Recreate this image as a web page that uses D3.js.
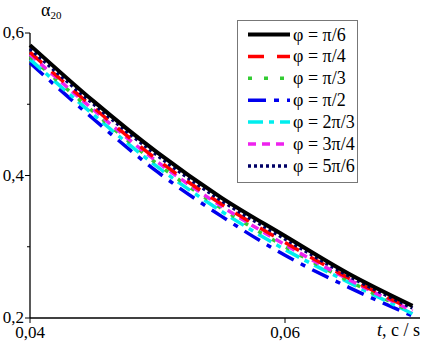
<!DOCTYPE html>
<html><head><meta charset="utf-8">
<script src="https://cdn.jsdelivr.net/npm/d3@7"></script>
<style>body{margin:0;background:#fff}svg{display:block}</style>
</head><body>
<script>
const tValues = [0.040, 0.045, 0.050, 0.055, 0.060, 0.065, 0.070];
const seriesNames = ["φ = π/6","φ = π/4","φ = π/3","φ = π/2","φ = 2π/3","φ = 3π/4","φ = 5π/6"];
const phi_pi6   = [0.583, 0.504, 0.432, 0.369, 0.315, 0.262, 0.217];
const phi_pi4   = [0.573, 0.495, 0.422, 0.360, 0.306, 0.256, 0.212];
const phi_pi3   = [0.567, 0.489, 0.416, 0.354, 0.300, 0.252, 0.208];
const phi_pi2   = [0.558, 0.479, 0.405, 0.343, 0.288, 0.243, 0.203];
const phi_2pi3  = [0.563, 0.485, 0.412, 0.350, 0.296, 0.250, 0.206];
const phi_3pi4  = [0.570, 0.492, 0.419, 0.357, 0.303, 0.254, 0.210];
const phi_5pi6  = [0.578, 0.500, 0.428, 0.365, 0.311, 0.259, 0.214];
const xTicks = [0.04, 0.06];
const xTickLabels = ["0,04", "0,06"];
const yTicks = [0.2, 0.4, 0.6];
const yTickLabels = ["0,2", "0,4", "0,6"];
const yMinor = [0.3, 0.5];

const seriesData = [phi_pi6, phi_pi4, phi_pi3, phi_pi2, phi_2pi3, phi_3pi4, phi_5pi6];
const styles = [
  {c:"#000000", w:4,   d:null},
  {c:"#ff0000", w:3.5, d:"16,13"},
  {c:"#33cc33", w:3.5, d:"4,12"},
  {c:"#0000ee", w:3.5, d:"18,8,5,8"},
  {c:"#00eeee", w:3.5, d:"15,6,5,6"},
  {c:"#ee22ee", w:3.5, d:"8,6"},
  {c:"#000066", w:3.5, d:"3,3"}
];
const drawOrder = [3,4,2,5,1,6,0];
const FONT = "Liberation Serif";

const W=422,H=343;
const svg=d3.select("body").append("svg").attr("width",W).attr("height",H)
  .style("font-family",FONT);
const x=d3.scaleLinear().domain([0.04,0.06]).range([30,285]);
const y=d3.scaleLinear().domain([0.2,0.6]).range([318,33]);

// axes
svg.append("line").attr("x1",30).attr("x2",30).attr("y1",33).attr("y2",318).attr("stroke","#000").attr("stroke-width",1.3);
svg.append("line").attr("x1",30).attr("x2",420).attr("y1",318).attr("y2",318).attr("stroke","#000").attr("stroke-width",1.3);
yTicks.forEach((v,i)=>{
  svg.append("line").attr("x1",25).attr("x2",30).attr("y1",y(v)).attr("y2",y(v)).attr("stroke","#000");
  svg.append("text").attr("x",24).attr("y",y(v)+5).attr("text-anchor","end").attr("font-size",17).style("font-family",FONT).text(yTickLabels[i]);
});
yMinor.forEach(v=>{
  svg.append("line").attr("x1",27).attr("x2",30).attr("y1",y(v)).attr("y2",y(v)).attr("stroke","#000");
});
xTicks.forEach((v,i)=>{
  svg.append("line").attr("x1",x(v)).attr("x2",x(v)).attr("y1",318).attr("y2",323).attr("stroke","#000");
  svg.append("text").attr("x",x(v)).attr("y",338).attr("text-anchor","middle").attr("font-size",17).style("font-family",FONT).text(xTickLabels[i]);
});
const xl=svg.append("text").attr("x",420).attr("y",336).attr("text-anchor","end").attr("font-size",18).style("font-family",FONT);
xl.append("tspan").attr("font-style","italic").text("t");
xl.append("tspan").text(", c / s");
const yl=svg.append("text").attr("x",41).attr("y",16).attr("font-size",18).style("font-family",FONT);
yl.append("tspan").text("α");
yl.append("tspan").attr("font-size",11).attr("dy",3).text("20");

const line=d3.line().x((d,i)=>x(tValues[i])).y(d=>y(d)).curve(d3.curveMonotoneX);
drawOrder.forEach(k=>{
  const s=styles[k];
  svg.append("path").datum(seriesData[k]).attr("d",line).attr("fill","none")
    .attr("stroke",s.c).attr("stroke-width",s.w).attr("stroke-dasharray",s.d);
});

// legend
const lg=svg.append("g");
lg.append("rect").attr("x",237.5).attr("y",20.5).attr("width",120).attr("height",162).attr("fill","#fff").attr("stroke","#777").attr("stroke-width",1);
seriesNames.forEach((n,i)=>{
  const yy=34.5+i*21.9;
  const s=styles[i];
  lg.append("line").attr("x1",248).attr("x2",290).attr("y1",yy).attr("y2",yy)
    .attr("stroke",s.c).attr("stroke-width",s.w).attr("stroke-dasharray",s.d);
  lg.append("text").attr("x",293).attr("y",yy+6).attr("font-size",18).style("font-family",FONT).text(n);
});
</script>
</body></html>
